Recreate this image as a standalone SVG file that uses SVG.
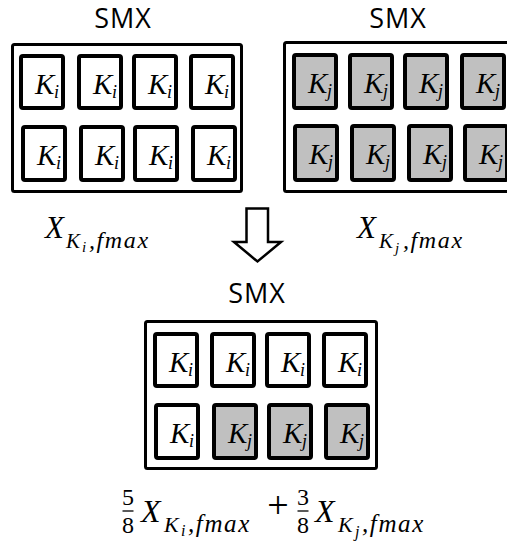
<svg xmlns="http://www.w3.org/2000/svg" width="507" height="550" viewBox="0 0 507 550">
<style>
.outer{fill:#fff;stroke:#000;stroke-width:3}
.cell{fill:#fff;stroke:#000;stroke-width:4}
.cell.g{fill:#c0c0c0}
.smx{font-family:"Open Sans","Noto Sans",sans-serif;font-size:27px;letter-spacing:1px;fill:#000;text-anchor:middle}
.m{font-family:"Liberation Serif","DejaVu Serif",serif;font-style:italic;fill:#000}
.n{font-family:"Liberation Serif","DejaVu Serif",serif;fill:#000}
.k{font-size:29px}
.s{font-size:18px}
.fm{letter-spacing:1.6px}
</style>
<defs>
<g id="ki"><text class="m k" x="16" y="40">K</text><text class="m s" x="35" y="44">i</text></g>
<g id="kj"><text class="m k" x="16" y="40">K</text><text class="m s" x="35" y="44">j</text></g>
</defs>
<rect width="507" height="550" fill="#fff"/>

<g id="smx-i">
<text class="smx" x="123" y="28">SMX</text>
<rect class="outer" x="12.5" y="44.5" width="229" height="147" rx="2"/>
<g transform="translate(19,54)"><rect class="cell" x="2" y="2" width="42" height="52" rx="2"/><use href="#ki"/></g>
<g transform="translate(77,54)"><rect class="cell" x="2" y="2" width="42" height="52" rx="2"/><use href="#ki"/></g>
<g transform="translate(132,54)"><rect class="cell" x="2" y="2" width="42" height="52" rx="2"/><use href="#ki"/></g>
<g transform="translate(189,54)"><rect class="cell" x="2" y="2" width="42" height="52" rx="2"/><use href="#ki"/></g>
<g transform="translate(21,125)"><rect class="cell" x="2" y="2" width="42" height="53" rx="2"/><use href="#ki"/></g>
<g transform="translate(79,125)"><rect class="cell" x="2" y="2" width="42" height="53" rx="2"/><use href="#ki"/></g>
<g transform="translate(133,125)"><rect class="cell" x="2" y="2" width="42" height="53" rx="2"/><use href="#ki"/></g>
<g transform="translate(191,125)"><rect class="cell" x="2" y="2" width="42" height="53" rx="2"/><use href="#ki"/></g>
</g>

<g id="smx-j">
<text class="smx" x="398" y="28">SMX</text>
<rect class="outer" x="284.5" y="42.5" width="300" height="149" rx="2"/>
<g transform="translate(292,53)"><rect class="cell g" x="2" y="2" width="42" height="53" rx="2"/><use href="#kj"/></g>
<g transform="translate(348,53)"><rect class="cell g" x="2" y="2" width="42" height="53" rx="2"/><use href="#kj"/></g>
<g transform="translate(403,53)"><rect class="cell g" x="2" y="2" width="42" height="53" rx="2"/><use href="#kj"/></g>
<g transform="translate(460,53)"><rect class="cell g" x="2" y="2" width="42" height="53" rx="2"/><use href="#kj"/></g>
<g transform="translate(293,124)"><rect class="cell g" x="2" y="2" width="42" height="54" rx="2"/><use href="#kj"/></g>
<g transform="translate(350,124)"><rect class="cell g" x="2" y="2" width="42" height="54" rx="2"/><use href="#kj"/></g>
<g transform="translate(407,124)"><rect class="cell g" x="2" y="2" width="42" height="54" rx="2"/><use href="#kj"/></g>
<g transform="translate(463,124)"><rect class="cell g" x="2" y="2" width="42" height="54" rx="2"/><use href="#kj"/></g>
</g>

<g id="label-xi">
<text class="m" x="45" y="238" font-size="31">X</text>
<text class="m" x="66" y="248" font-size="21">K</text>
<text class="m" x="82" y="252" font-size="15">i</text>
<text class="m fm" x="89" y="248" font-size="24">,fmax</text>
</g>

<g id="label-xj">
<text class="m" x="357" y="238" font-size="31">X</text>
<text class="m" x="379" y="248" font-size="21">K</text>
<text class="m" x="395" y="253" font-size="15">j</text>
<text class="m fm" x="403" y="248" font-size="24">,fmax</text>
</g>

<g id="connectors">
<polygon points="246.5,208.5 268,208.5 268,242 281,242 257.5,261.5 234,242 246.5,242" fill="#fff" stroke="#000" stroke-width="2.5" stroke-linejoin="miter"/>
</g>

<g id="smx-mixed">
<text class="smx" x="257" y="303">SMX</text>
<rect class="outer" x="145.5" y="321.5" width="231" height="147" rx="2"/>
<g transform="translate(153,332)"><rect class="cell" x="2" y="2" width="42" height="52" rx="2"/><use href="#ki"/></g>
<g transform="translate(210,332)"><rect class="cell" x="2" y="2" width="42" height="52" rx="2"/><use href="#ki"/></g>
<g transform="translate(265,332)"><rect class="cell" x="2" y="2" width="42" height="52" rx="2"/><use href="#ki"/></g>
<g transform="translate(322,332)"><rect class="cell" x="2" y="2" width="42" height="52" rx="2"/><use href="#ki"/></g>
<g transform="translate(154,403)"><rect class="cell" x="2" y="2" width="42" height="53" rx="2"/><use href="#ki"/></g>
<g transform="translate(212,403)"><rect class="cell g" x="2" y="2" width="42" height="53" rx="2"/><use href="#kj"/></g>
<g transform="translate(267,403)"><rect class="cell g" x="2" y="2" width="42" height="53" rx="2"/><use href="#kj"/></g>
<g transform="translate(324,403)"><rect class="cell g" x="2" y="2" width="42" height="53" rx="2"/><use href="#kj"/></g>
</g>

<g id="label-mix">
<text class="n" x="128" y="505" font-size="24" text-anchor="middle">5</text>
<line x1="122.5" y1="511" x2="133.5" y2="511" stroke="#000" stroke-width="1.3"/>
<text class="n" x="128" y="533" font-size="24" text-anchor="middle">8</text>
<text class="m" x="141" y="522" font-size="32">X</text>
<text class="m" x="164" y="532" font-size="22">K</text>
<text class="m" x="181" y="536" font-size="16">i</text>
<text class="m fm" x="188" y="532" font-size="25">,fmax</text>
<text class="n" x="278" y="518" font-size="38" text-anchor="middle">+</text>
<text class="n" x="303" y="505" font-size="24" text-anchor="middle">3</text>
<line x1="297.5" y1="511" x2="308.5" y2="511" stroke="#000" stroke-width="1.3"/>
<text class="n" x="303" y="533" font-size="24" text-anchor="middle">8</text>
<text class="m" x="315" y="522" font-size="32">X</text>
<text class="m" x="338" y="532" font-size="22">K</text>
<text class="m" x="355" y="537" font-size="16">j</text>
<text class="m fm" x="362" y="532" font-size="25">,fmax</text>
</g>
</svg>
